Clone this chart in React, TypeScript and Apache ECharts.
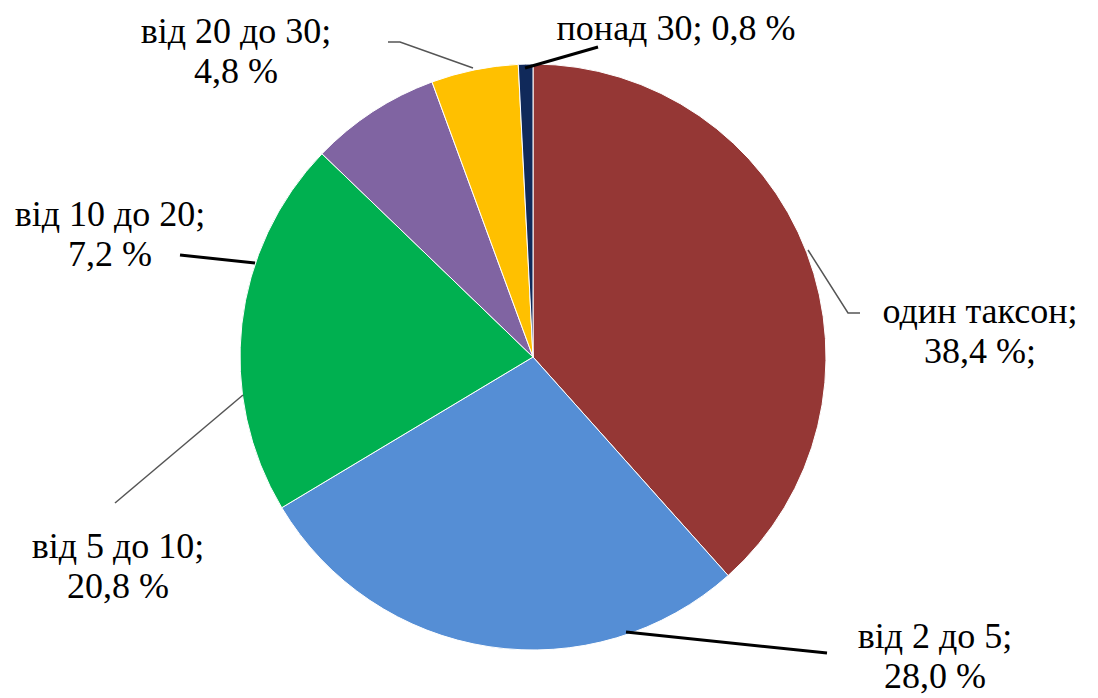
import React, { useEffect, useRef } from "react";
import * as echarts from "echarts";

const categories = ["один таксон", "від 2 до 5", "від 5 до 10", "від 10 до 20", "від 20 до 30", "понад 30"];
const values = [38.4, 28.0, 20.8, 7.2, 4.8, 0.8];
const separators = ["\n", "\n", "\n", "\n", "\n", " "];
const suffixes = [";", "", "", "", "", ""];
const colors = ["#953735", "#558ED5", "#00B050", "#8064A2", "#FFC000", "#10295A"];

// label layout (annotation positions)
const labelPos = [
  [980, 331],
  [935, 656],
  [118, 566],
  [110, 234],
  [236, 51],
  [676, 28],
];
const leaderLines = [
  [[808, 250], [848, 313], [860, 313]],
  [[626, 632], [827, 653]],
  [[243, 395], [115, 503]],
  [[255, 263], [180, 255]],
  [[473, 68], [400, 42], [388, 42]],
  [[525, 68], [598, 47]],
];
const leaderStyle = [
  { stroke: "#555555", lineWidth: 1.5 },
  { stroke: "#000000", lineWidth: 3 },
  { stroke: "#555555", lineWidth: 1.5 },
  { stroke: "#000000", lineWidth: 3 },
  { stroke: "#555555", lineWidth: 1.5 },
  { stroke: "#000000", lineWidth: 3 },
];

const FONT = '36px "Liberation Serif"';

function labelText(i: number) {
  const v = values[i].toFixed(1).replace(".", ",");
  return `${categories[i]};${separators[i]}${v} %${suffixes[i]}`;
}

export default function App() {
  const ref = useRef<HTMLDivElement>(null);
  useEffect(() => {
    if (!ref.current) return;
    const chart = echarts.init(ref.current, undefined, { renderer: "svg" });
    const data = categories.map((name, i) => ({
      name,
      value: values[i],
      itemStyle: { color: colors[i] },
    }));
    const graphics: any[] = [];
    leaderLines.forEach((pts, i) => {
      graphics.push({
        type: "polyline",
        shape: { points: pts },
        style: { ...leaderStyle[i], fill: null },
        z: 10,
      });
    });
    categories.forEach((_, i) => {
      graphics.push({
        type: "text",
        x: labelPos[i][0],
        y: labelPos[i][1],
        z: 10,
        style: {
          text: labelText(i),
          font: FONT,
          fill: "#000000",
          align: "center",
          verticalAlign: "middle",
          lineHeight: 40,
        },
      });
    });
    chart.setOption({
      animation: false,
      backgroundColor: "#ffffff",
      series: [
        {
          type: "pie",
          center: [533, 357],
          radius: 293,
          startAngle: 90,
          clockwise: true,
          data,
          itemStyle: { borderColor: "#ffffff", borderWidth: 1 },
          label: { show: false },
          labelLine: { show: false },
          emphasis: { disabled: true },
        },
      ],
      graphic: graphics,
    });
    return () => chart.dispose();
  }, []);
  return (
    <div style={{ fontFamily: "'Liberation Serif'" }}>
      <span
        aria-hidden="true"
        style={{ position: "absolute", left: -2000, top: -2000, opacity: 0, fontFamily: "'Liberation Serif'", fontSize: 36 }}
      >
        в
      </span>
      <div
        ref={ref}
        style={{ position: "absolute", left: 0, top: 0, width: 1098, height: 698, fontFamily: "'Liberation Serif'" }}
      />
    </div>
  );
}
